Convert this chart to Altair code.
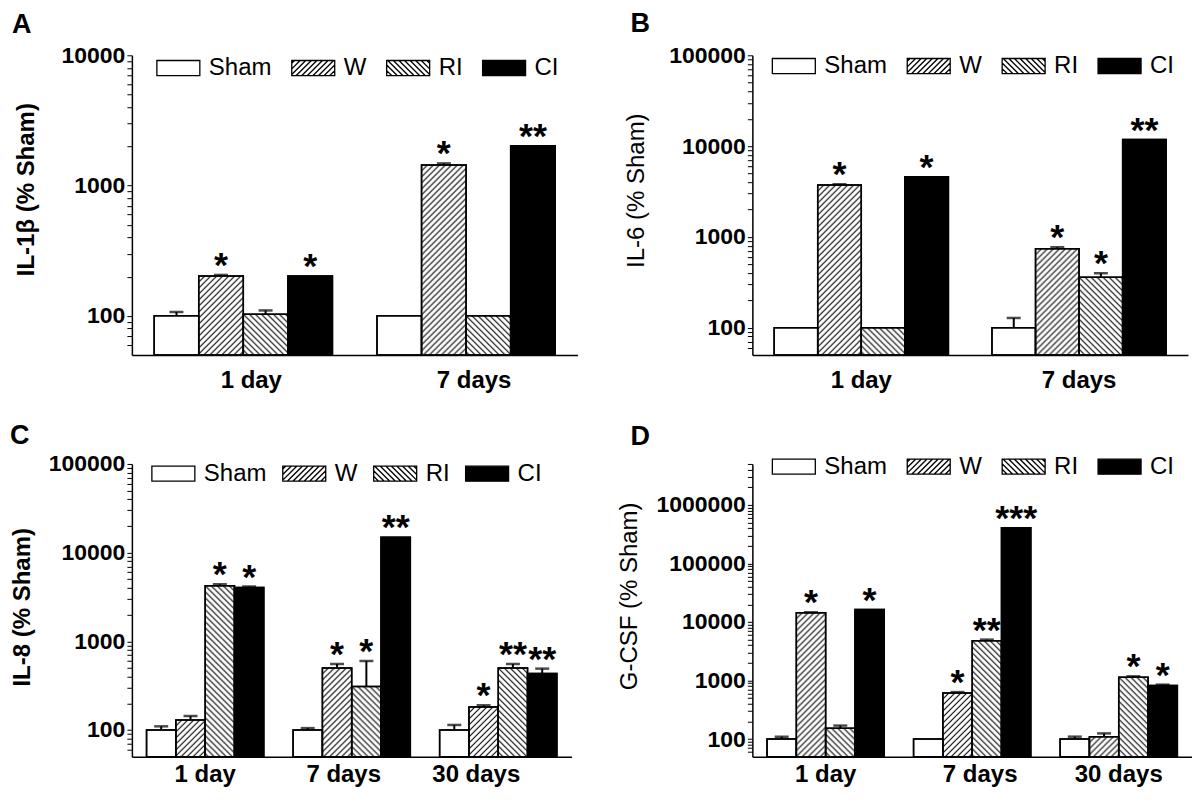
import base64
import altair as alt
import pandas as pd

FONT = "Liberation Sans"
SERIES = ["Sham", "W", "RI", "CI"]
YMIN = 50

# ---------------- Panel A : IL-1beta ----------------
A_groups = ["1 day", "7 days"]
A_sham = [100, 100]
A_w = [202, 1440]
A_ri = [103, 100]
A_ci = [202, 2020]
A_sham_err = [107, 100]
A_w_err = [206, 1480]
A_ri_err = [110, 100]
A_ci_err = [202, 2020]
A_sham_sig = ["", ""]
A_w_sig = ["*", "*"]
A_ri_sig = ["", ""]
A_ci_sig = ["*", "**"]

# ---------------- Panel B : IL-6 ----------------
B_groups = ["1 day", "7 days"]
B_sham = [100, 100]
B_w = [3720, 741]
B_ri = [100, 359]
B_ci = [4600, 11800]
B_sham_err = [100, 128]
B_w_err = [3800, 770]
B_ri_err = [100, 398]
B_ci_err = [4600, 11800]
B_sham_sig = ["", ""]
B_w_sig = ["*", "*"]
B_ri_sig = ["", "*"]
B_ci_sig = ["*", "**"]

# ---------------- Panel C : IL-8 ----------------
C_groups = ["1 day", "7 days", "30 days"]
C_sham = [100, 100, 100]
C_w = [130, 500, 182]
C_ri = [4240, 310, 500]
C_ci = [4050, 14900, 433]
C_sham_err = [110, 105, 114]
C_w_err = [144, 555, 190]
C_ri_err = [4400, 600, 555]
C_ci_err = [4150, 14900, 492]
C_sham_sig = ["", "", ""]
C_w_sig = ["", "*", "*"]
C_ri_sig = ["*", "*", "**"]
C_ci_sig = ["*", "**", "**"]

# ---------------- Panel D : G-CSF ----------------
D_groups = ["1 day", "7 days", "30 days"]
D_sham = [100, 100, 100]
D_w = [14400, 612, 110]
D_ri = [153, 4770, 1140]
D_ci = [16300, 405000, 824]
D_sham_err = [110, 100, 110]
D_w_err = [14600, 635, 125]
D_ri_err = [170, 5000, 1180]
D_ci_err = [16300, 405000, 850]
D_sham_sig = ["", "", ""]
D_w_sig = ["*", "*", ""]
D_ri_sig = ["", "**", "*"]
D_ci_sig = ["*", "***", "*"]

# y-axis tick values (decades labelled, minor ticks unlabelled)
A_ticks = [60, 70, 80, 90, 100, 200, 300, 400, 500, 600, 700, 800, 900,
           1000, 2000, 3000, 4000, 5000, 6000, 7000, 8000, 9000, 10000]
BC_ticks = A_ticks + [20000, 30000, 40000, 50000, 60000, 70000, 80000, 90000, 100000]
D_ticks = BC_ticks + [200000, 300000, 400000, 500000, 600000, 700000, 800000,
                      900000, 1000000, 2000000, 3000000, 4000000, 5000000]


def table(groups, vals, errs, sigs):
    rows = []
    for s, v, e, g in zip(SERIES, vals, errs, sigs):
        for grp, vv, ee, gg in zip(groups, v, e, g):
            rows.append({"group": grp, "series": s, "value": vv, "err": ee, "star": gg})
    return pd.DataFrame(rows)


def hatch_uri(kind):
    if kind == "/":
        d = "M-1,7 L7,-1 M-1,1 L1,-1 M5,7 L7,5"
    else:
        d = "M-1,-1 L7,7 M5,-1 L7,1 M-1,5 L1,7"
    svg = ("<svg xmlns='http://www.w3.org/2000/svg' width='100%' height='100%'>"
           "<defs><pattern id='h' patternUnits='userSpaceOnUse' width='6' height='6'>"
           f"<path d='{d}' stroke='black' stroke-width='1.1' fill='none'/></pattern></defs>"
           "<rect width='100%' height='100%' fill='url(#h)'/></svg>")
    return "data:image/svg+xml;base64," + base64.b64encode(svg.encode()).decode()


def symbol_path(kind, h=0.35, step=0.26):
    p = f"M-1,{-h}L1,{-h}L1,{h}L-1,{h}Z"
    if kind is None:
        return p
    segs = []
    c = -1 - 2 * h + step / 2
    while c < 1:
        x0, y0, x1, y1 = c, h, c + 2 * h, -h
        if x0 < -1:
            y0 = h - (-1 - c)
            x0 = -1
        if x1 > 1:
            y1 = h - (1 - c)
            x1 = 1
        if x1 > x0:
            if kind == "\\":
                x0, x1 = -x0, -x1
            segs.append(f"M{x0:.3f},{y0:.3f}L{x1:.3f},{y1:.3f}")
        c += step
    return p + "".join(segs)


URI_W = hatch_uri("/")
URI_RI = hatch_uri("\\")
SHAPES = [symbol_path(None), symbol_path("/"), symbol_path("\\"), symbol_path(None)]
FILLS = ["white", "white", "white", "black"]
STROKES = ["black", "black", "black", "black"]


def panel(df, groups, ymax, ticks, ytitle, tweight, tx, ty, letter, ldx, loff,
          width, height, lgx, lgy, lcp, xlo, xlp):
    yscale = alt.Scale(type="log", domain=[YMIN, ymax], nice=False)
    yaxis = alt.Axis(
        values=ticks,
        labelExpr="abs(log(datum.value)/LN10 - round(log(datum.value)/LN10)) < 0.001 ? format(datum.value, 'd') : ''",
        labelFont=FONT, labelFontSize=23, labelFontWeight="bold", labelColor="black",
        labelPadding=2, labelOverlap=False, labelFlush=False,
        tickSize=5, tickColor="black", tickWidth=1,
        domainColor="black", domainWidth=1.5, grid=False,
        titleFont=FONT, titleFontSize=24, titleFontWeight=tweight, titleColor="black",
        titleAngle=270, titleAlign="center", titleBaseline="middle",
        titleX=tx, titleY=ty,
    )
    xaxis = alt.Axis(
        labelFont=FONT, labelFontSize=24, labelFontWeight="bold", labelColor="black",
        labelPadding=xlp, labelAngle=0, labelOffset=xlo, ticks=False,
        domainColor="black", domainWidth=1.5, grid=False,
    )
    X = alt.X("group:N", sort=groups, title=None,
              scale=alt.Scale(domain=groups, paddingInner=0.2, paddingOuter=0.1), axis=xaxis)
    XO = alt.XOffset("series:N", sort=SERIES,
                     scale=alt.Scale(domain=SERIES, paddingInner=0, paddingOuter=0))

    def Y(field):
        return alt.Y(field, type="quantitative", scale=yscale, axis=yaxis, title=ytitle)

    base = alt.Chart(df)
    bars = base.mark_bar(stroke="black", strokeWidth=1.5).encode(
        x=X, xOffset=XO, y=Y("value"), y2=alt.datum(YMIN),
        fill=alt.condition("datum.series == 'CI'", alt.value("black"), alt.value("white")),
    )
    hatch_w = base.transform_filter("datum.series == 'W'").mark_image(aspect=False).encode(
        x=X, xOffset=XO, y=Y("value"), y2=alt.datum(YMIN), url=alt.value(URI_W))
    hatch_ri = base.transform_filter("datum.series == 'RI'").mark_image(aspect=False).encode(
        x=X, xOffset=XO, y=Y("value"), y2=alt.datum(YMIN), url=alt.value(URI_RI))
    outline = base.mark_bar(fillOpacity=0, stroke="black", strokeWidth=1.5).encode(
        x=X, xOffset=XO, y=Y("value"), y2=alt.datum(YMIN))
    err = base.transform_filter("datum.err > datum.value")
    rules = err.mark_rule(color="black", strokeWidth=2).encode(
        x=X, xOffset=XO, y=Y("value"), y2=alt.Y2("err"))
    caps = err.mark_tick(color="black", size=14, thickness=2.5).encode(
        x=X, xOffset=XO, y=Y("err"))
    stars = base.transform_filter("datum.star != ''").transform_calculate(
        top="max(datum.value, datum.err)").mark_text(
        font=FONT, fontSize=36, fontWeight="bold", color="black",
        baseline="alphabetic", align="center", dy=2).encode(
        x=X, xOffset=XO, y=Y("top"), text="star:N")
    leg = alt.Legend(
        orient="none", legendX=lgx, legendY=lgy, direction="horizontal", title=None,
        symbolSize=1849, symbolStrokeColor="black", symbolStrokeWidth=1.3,
        symbolOpacity=1, labelFont=FONT, labelFontSize=24, labelColor="black",
        labelOffset=8, columnPadding=lcp, padding=0, labelLimit=300,
    )
    legend_layer = base.transform_filter("datum.value < 0").mark_point(
        filled=True, strokeWidth=1.3, opacity=1).encode(
        x=X, xOffset=XO, y=Y("value"),
        fill=alt.Fill("series:N", scale=alt.Scale(domain=SERIES, range=FILLS), legend=leg),
        stroke=alt.Stroke("series:N", scale=alt.Scale(domain=SERIES, range=STROKES), legend=leg),
        shape=alt.Shape("series:N", scale=alt.Scale(domain=SERIES, range=SHAPES), legend=leg),
    )
    return alt.layer(bars, hatch_w, hatch_ri, outline, rules, caps, stars, legend_layer).properties(
        width=width, height=height,
        title=alt.TitleParams(letter, anchor="start", frame="group", dx=ldx, offset=loff,
                              font=FONT, fontSize=27, fontWeight="bold", color="black"),
    )


C_label_shift = {"condition": [{"test": "datum.value == '7 days'", "value": -8},
                               {"test": "datum.value == '30 days'", "value": -22}],
                 "value": 0}
D_label_shift = {"condition": {"test": "datum.value == '7 days'", "value": 8}, "value": 0}

pA = panel(table(A_groups, [A_sham, A_w, A_ri, A_ci], [A_sham_err, A_w_err, A_ri_err, A_ci_err],
                 [A_sham_sig, A_w_sig, A_ri_sig, A_ci_sig]),
           A_groups, 10000, A_ticks, "IL-1β (% Sham)", "bold", -105, 134, "A", -120, 5,
           446, 300, 24, -10, 17, 8, 13)
pB = panel(table(B_groups, [B_sham, B_w, B_ri, B_ci], [B_sham_err, B_w_err, B_ri_err, B_ci_err],
                 [B_sham_sig, B_w_sig, B_ri_sig, B_ci_sig]),
           B_groups, 100000, BC_ticks, "IL-6 (% Sham)", "normal", -116, 135, "B", -122, 5,
           436, 300, 19, -12, 17, 0, 13)
pC = panel(table(C_groups, [C_sham, C_w, C_ri, C_ci], [C_sham_err, C_w_err, C_ri_err, C_ci_err],
                 [C_sham_sig, C_w_sig, C_ri_sig, C_ci_sig]),
           C_groups, 100000, BC_ticks, "IL-8 (% Sham)", "bold", -109, 143, "C", -122, 1,
           440, 293, 19, -13, 13, C_label_shift, 6)
pD = panel(table(D_groups, [D_sham, D_w, D_ri, D_ci], [D_sham_err, D_w_err, D_ri_err, D_ci_err],
                 [D_sham_sig, D_w_sig, D_ri_sig, D_ci_sig]),
           D_groups, 5000000, D_ticks, "G-CSF (% Sham)", "normal", -123, 132, "D", -122, -7,
           440, 293, 19, -20, 17, D_label_shift, 6)

chart = alt.concat(pA, pB, pC, pD, columns=2, spacing={"row": 109, "column": 175},
                   bounds="flush").resolve_scale(
    fill="independent", shape="independent", stroke="independent",
    x="independent", y="independent", xOffset="independent").resolve_legend(
    fill="independent", shape="independent", stroke="independent").properties(
    padding={"top": 2, "left": 2, "right": 0, "bottom": 0}).configure_view(stroke=None)

chart.save("out.html", embed_options={"renderer": "svg", "actions": False})
